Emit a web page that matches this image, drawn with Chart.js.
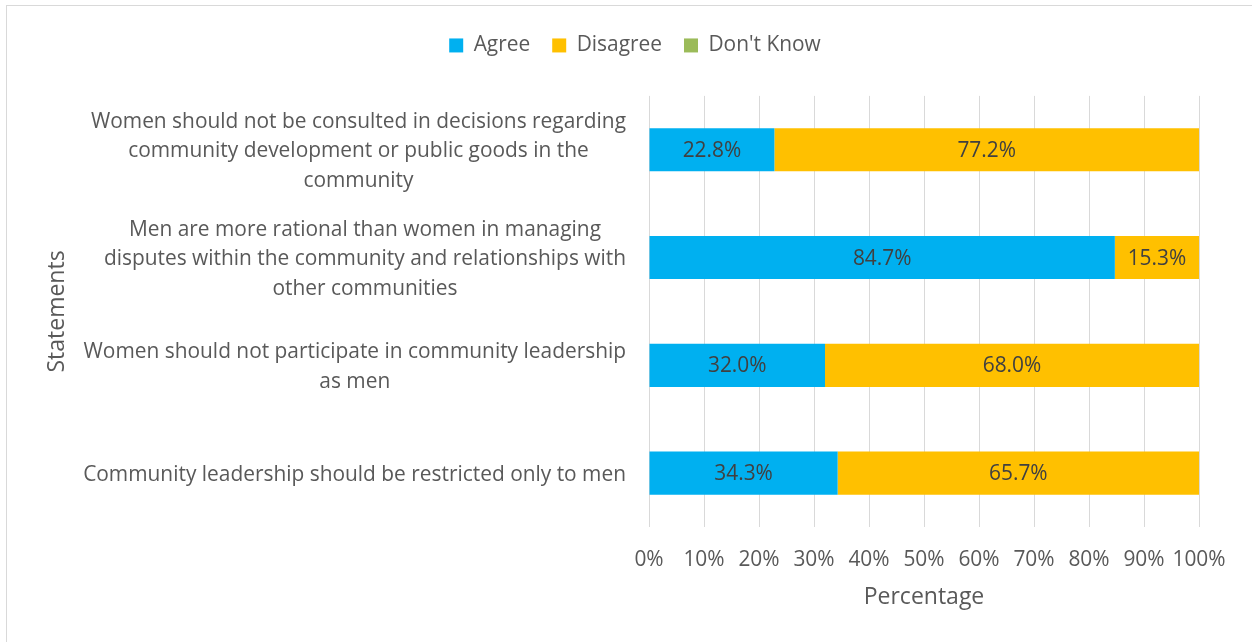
<!DOCTYPE html>
<html>
<head>
<meta charset="utf-8">
<title>Statements on women and community leadership</title>
<script src="https://cdn.jsdelivr.net/npm/chart.js@4.4.1/dist/chart.umd.min.js"></script>
<style>
  html, body { margin: 0; padding: 0; background: #fff; overflow: hidden; }
  #frame { position: absolute; left: 6px; top: 5px; width: 1270px; height: 660px; border: 1px solid #d9d9d9; }
  #chart { position: absolute; left: 0; top: 0; }
</style>
</head>
<body>
<div id="frame"></div>
<canvas id="chart" width="1252" height="642"></canvas>
<script>
// ── Data ──────────────────────────────────────────────
const statements = [
  ['Women should not be consulted in decisions regarding', 'community development or public goods in the', 'community'],
  ['Men are more rational than women in managing', 'disputes within the community and relationships with', 'other communities'],
  ['Women should not participate in community leadership', 'as men'],
  ['Community leadership should be restricted only to men'],
];
const agree    = [22.8, 84.7, 32.0, 34.3];
const disagree = [77.2, 15.3, 68.0, 65.7];
const dontKnow = [0, 0, 0, 0];

// ── Style ─────────────────────────────────────────────
const FONT = '"Open Sans", sans-serif';
const TEXT = '#595959';
const TICK_SIZE = 20.9;
const TITLE_SIZE = 23;
const LINE_H = 29.5;

// legend a bit further from the plot, centred over the canvas
const legendSpacing = {
  id: 'legendSpacing',
  beforeLayout(chart) {
    const lg = chart.legend;
    if (!lg || lg._spaced) return;
    const fit = lg.fit;
    lg.fit = function () { fit.call(this); this.height += 30; };
    lg._spaced = true;
  },
  afterLayout(chart) {
    chart.legend.left = 18;
    chart.legend.right = chart.width;
  },
};

// category labels: each statement's lines centred on its own widest line
const statementLabels = {
  id: 'statementLabels',
  afterDraw(chart) {
    const { ctx, chartArea } = chart;
    const yScale = chart.scales.y;
    const right = chartArea.left - 23;
    ctx.save();
    ctx.font = `${TICK_SIZE}px ${FONT}`;
    ctx.fillStyle = TEXT;
    ctx.textAlign = 'center';
    ctx.textBaseline = 'middle';
    statements.forEach((lines, i) => {
      const w = Math.max(...lines.map(l => ctx.measureText(l).width));
      const cx = right - w / 2;
      const cy = yScale.getPixelForTick(i) + 1.5;
      lines.forEach((l, k) => ctx.fillText(l, cx, cy + (k - (lines.length - 1) / 2) * LINE_H));
    });
    ctx.restore();
  },
};

// percentage written in the middle of each segment
const barValues = {
  id: 'barValues',
  afterDatasetsDraw(chart) {
    const { ctx } = chart;
    ctx.save();
    ctx.font = `${TICK_SIZE}px ${FONT}`;
    ctx.fillStyle = '#404040';
    ctx.textAlign = 'center';
    ctx.textBaseline = 'middle';
    chart.data.datasets.forEach((ds, di) => {
      const meta = chart.getDatasetMeta(di);
      if (meta.hidden) return;
      meta.data.forEach((bar, i) => {
        const v = ds.data[i];
        if (!v) return;
        const { x, y, base } = bar.getProps(['x', 'y', 'base'], true);
        ctx.fillText(v.toFixed(1) + '%', (x + base) / 2, y + 1);
      });
    });
    ctx.restore();
  },
};

new Chart(document.getElementById('chart'), {
  type: 'bar',
  data: {
    labels: statements,
    datasets: [
      { label: 'Agree',      data: agree,    backgroundColor: '#00b0f0' },
      { label: 'Disagree',   data: disagree, backgroundColor: '#ffc000' },
      { label: "Don't Know", data: dontKnow, backgroundColor: '#9bbb59' },
    ],
  },
  options: {
    indexAxis: 'y',
    responsive: false,
    animation: false,
    categoryPercentage: 0.4,
    barPercentage: 1,
    layout: { padding: { top: 13, left: 18, right: 53, bottom: 0 } },
    scales: {
      x: {
        stacked: true,
        min: 0,
        max: 100,
        grid: { color: '#d9d9d9', drawTicks: false },
        border: { display: false },
        ticks: {
          stepSize: 10,
          padding: 21,
          autoSkip: false,
          maxRotation: 0,
          minRotation: 0,
          color: TEXT,
          font: { family: FONT, size: TICK_SIZE },
          callback: v => v + '%',
        },
        title: {
          display: true,
          text: 'Percentage',
          color: TEXT,
          font: { family: FONT, size: TITLE_SIZE },
          padding: { top: 4, bottom: 31 },
        },
        afterFit: s => { s.height = 115; },
      },
      y: {
        stacked: true,
        grid: { display: false },
        border: { display: false },
        ticks: { display: false },
        title: {
          display: true,
          text: 'Statements',
          color: TEXT,
          font: { family: FONT, size: TITLE_SIZE },
          padding: { top: 26 },
        },
        afterFit: s => { s.width = 631; },
      },
    },
    plugins: {
      legend: {
        position: 'top',
        labels: {
          boxWidth: 14,
          boxHeight: 14,
          padding: 22,
          color: TEXT,
          font: { family: FONT, size: TICK_SIZE },
        },
      },
      tooltip: { enabled: false },
    },
  },
  plugins: [legendSpacing, statementLabels, barValues],
});
</script>
</body>
</html>
